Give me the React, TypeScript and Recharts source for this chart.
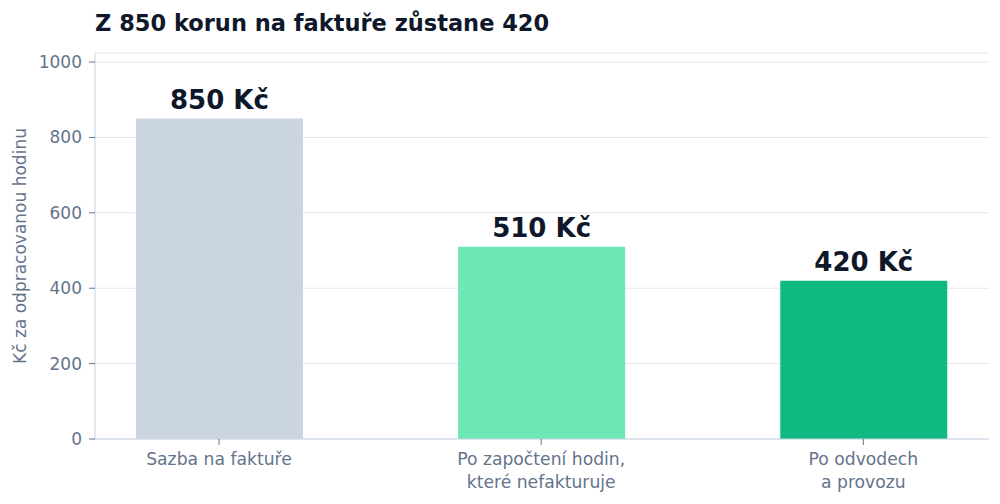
import React from "react"
import { BarChart, Bar, XAxis, YAxis, CartesianGrid, Cell, LabelList } from "recharts"

// Chart values
const categories = ["Sazba na faktuře", "Po započtení hodin,\nkteré nefakturuje", "Po odvodech\na provozu"]
const values = [850, 510, 420]
const barColors = ["#cbd5e1", "#6ee7b7", "#10b981"]
const yTicks = [0, 200, 400, 600, 800, 1000]

const FONT = "DejaVu Sans, sans-serif"

const data = categories.map((name, i) => ({ pos: i, name, value: values[i] }))

const CategoryTick = (props: any) => {
    const { x, y, payload } = props
    const lines = String(categories[payload.value] ?? "").split("\n")
    return (
        <text x={x} y={y + 8} textAnchor="middle" fill="#64748b" fontSize={17.2} fontFamily={FONT}>
            {lines.map((line, i) => (
                <tspan key={i} x={x} dy={i === 0 ? 10 : 23}>
                    {line}
                </tspan>
            ))}
        </text>
    )
}

const ValueLabel = (props: any) => {
    const { x, y, width, value } = props
    return (
        <text x={x + width / 2} y={y - 10} textAnchor="middle" fill="#0f172a" fontSize={26} fontWeight="bold" fontFamily={FONT}>
            {`${value} Kč`}
        </text>
    )
}

export default function App() {
    return (
        <div style={{ position: "absolute", left: 0, top: 0, width: 1000, height: 504, background: "#fff" }}>
            <div
                style={{
                    position: "absolute",
                    left: 95,
                    top: 10,
                    fontFamily: FONT,
                    fontWeight: "bold",
                    fontSize: 22.5,
                    color: "#0f172a",
                    whiteSpace: "nowrap"
                }}
            >
                Z 850 korun na faktuře zůstane 420
            </div>
            <BarChart width={1000} height={504} data={data} margin={{ top: 53, right: 11, bottom: 0, left: 0 }}>
                <CartesianGrid vertical={false} stroke="#e2e8f0" />
                <XAxis
                    type="number"
                    dataKey="pos"
                    height={65}
                    domain={[-0.385, 2.39]}
                    ticks={[0, 1, 2]}
                    allowDataOverflow
                    tick={<CategoryTick />}
                    tickLine={{ stroke: "#64748b" }}
                    tickSize={6}
                    axisLine={{ stroke: "#cbd5e1" }}
                    interval={0}
                />
                <YAxis
                    width={95}
                    domain={[0, 1024]}
                    ticks={yTicks}
                    allowDataOverflow
                    tick={{ fill: "#64748b", fontSize: 17, fontFamily: FONT }}
                    tickLine={{ stroke: "#64748b" }}
                    tickSize={6}
                    tickMargin={7}
                    axisLine={{ stroke: "#cbd5e1" }}
                    label={{
                        value: "Kč za odpracovanou hodinu",
                        angle: -90,
                        position: "insideLeft",
                        offset: 20,
                        style: { textAnchor: "middle", fill: "#64748b", fontSize: 17, fontFamily: FONT }
                    }}
                />
                <Bar dataKey="value" barSize={167} isAnimationActive={false}>
                    {data.map((d, i) => (
                        <Cell key={d.name} fill={barColors[i]} />
                    ))}
                    <LabelList dataKey="value" content={<ValueLabel />} />
                </Bar>
            </BarChart>
        </div>
    )
}
